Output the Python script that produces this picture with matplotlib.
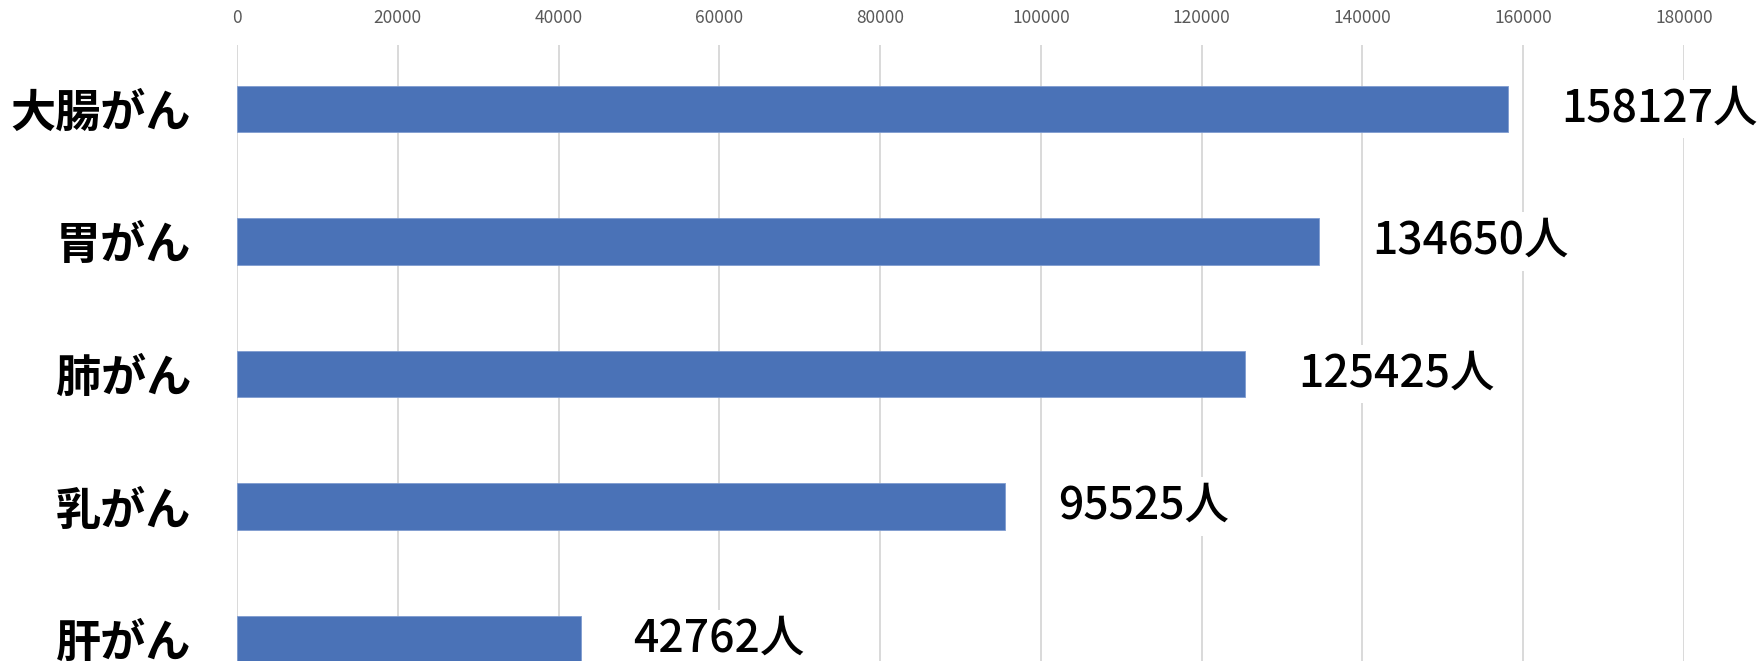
#!/usr/bin/env python3
"""Horizontal bar chart: patients by cancer type (大腸がん, 胃がん, ...)."""

import matplotlib
matplotlib.use('Agg')
import matplotlib.pyplot as plt

plt.rcParams['font.family'] = ['Noto Sans CJK JP', 'DejaVu Sans']

# --- Data ---
categories = ['大腸がん', '胃がん', '肺がん', '乳がん', '肝がん']
patients = [158127, 134650, 125425, 95525, 42762]
x_ticks = [0, 20000, 40000, 60000, 80000, 100000, 120000, 140000, 160000, 180000]

BAR_BLUE = '#4A72B7'
GRID_GRAY = '#D9D9D9'
TICK_GRAY = '#595959'

W, H, DPI = 1760, 661, 100
fig = plt.figure(figsize=(W / DPI, H / DPI), dpi=DPI, facecolor='white')

# axes placed in pixel terms: plot area from x=237 to 1684, top at y=45
left, right, top = 237, 1684, 45
ax = fig.add_axes([left / W, 0, (right - left) / W, (H - top) / H])

y = list(range(len(categories)))
ax.barh(y, patients, height=0.35, color=BAR_BLUE, edgecolor='#7F9CD0',
        linewidth=0.6, zorder=2)

ax.set_xlim(0, 180000)
ax.set_ylim(4.166, -0.483)

ax.set_xticks(x_ticks)
ax.set_xticklabels([str(v) for v in x_ticks])
ax.xaxis.tick_top()
ax.tick_params(axis='x', length=0, pad=13, labelsize=12.5, labelcolor=TICK_GRAY)
ax.grid(True, axis='x', color=GRID_GRAY, linewidth=1.4, zorder=0)

ax.set_yticks(y)
ax.set_yticklabels(categories, fontsize=32.5, fontweight='bold')
ax.tick_params(axis='y', length=0, pad=33)

for s in ax.spines.values():
    s.set_visible(False)

# value labels with white boxes that break the gridlines behind them
for yi, v in zip(y, patients):
    ax.annotate(f'{v}人', xy=(v, yi), xytext=(38, 0), textcoords='offset points',
                ha='left', va='center', fontsize=32, fontweight='medium',
                color='black', annotation_clip=False, zorder=3,
                bbox=dict(boxstyle='square,pad=0.15', facecolor='white',
                          edgecolor='none'))

fig.savefig('out.png', dpi=DPI, facecolor='white')
